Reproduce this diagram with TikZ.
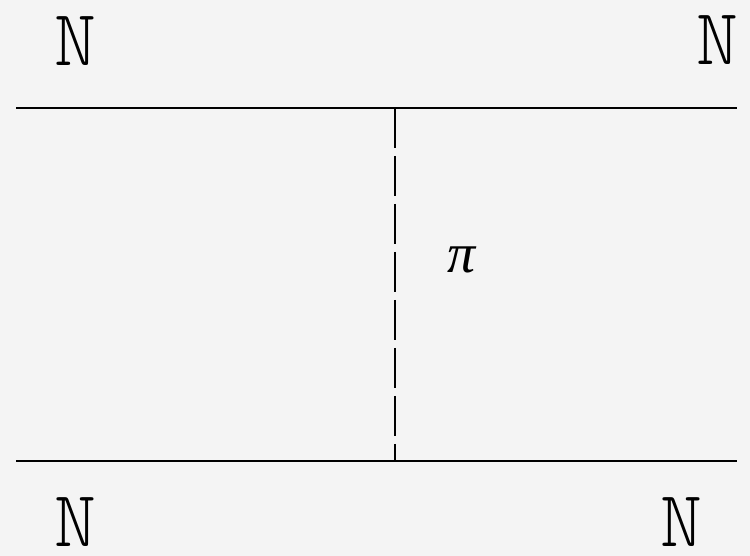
\documentclass[tikz,border=0pt]{standalone}
\usepackage{fontspec}
\newfontfamily\greekfont{Liberation Serif}
\newfontfamily\nucleonfont{Latin Modern Mono Light}
\usetikzlibrary{positioning}
\definecolor{bgray}{HTML}{F4F4F4}
\begin{document}
\begin{tikzpicture}[x=1pt, y=1pt,
    particle/.style={font=\nucleonfont\fontsize{80}{80}\selectfont, inner sep=0pt, anchor=base},
    meson/.style={font=\greekfont\itshape\fontsize{56}{56}\selectfont, inner sep=0pt, anchor=base},
    nucleon/.style={line width=2.6pt},
    exchange/.style={line width=2.2pt, dash pattern=on 40pt off 8pt}
]
\fill[bgray] (0,0) rectangle (750,556);

% Nucleon lines
\coordinate (tl) at (16,448);
\coordinate (tr) at (737,448);
\coordinate (bl) at (16,95);
\coordinate (br) at (737,95);
\draw[nucleon] (tl) -- (tr);
\draw[nucleon] (bl) -- (br);

% Pion exchange
\coordinate (vt) at (395,448);
\coordinate (vb) at (395,95);
\draw[exchange] (vt) -- (vb);
\node[meson] (pi) at (461.5,283) {π};

% Labels
\node[particle] (nTL) at (75,490) {N};
\node[particle] (nTR) at (717,491) {N};
\node[particle] (nBL) at (75,9) {N};
\node[particle] (nBR) at (681,9) {N};

\end{tikzpicture}
\end{document}
